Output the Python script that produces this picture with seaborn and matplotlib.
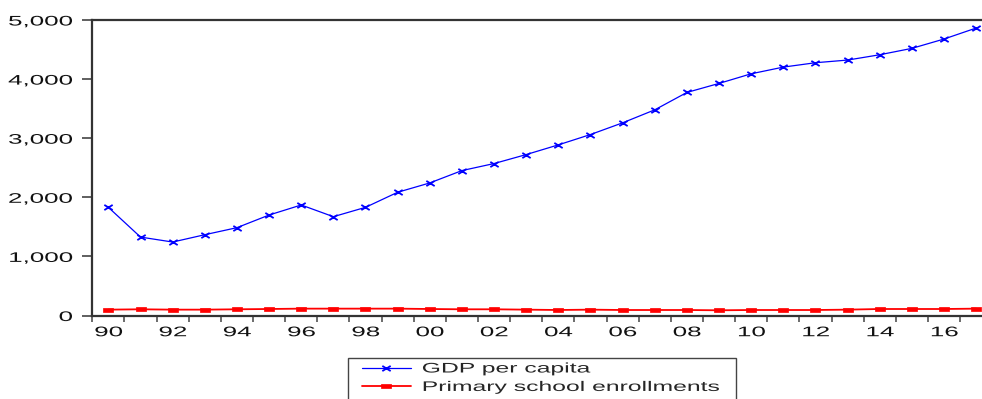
import numpy as np
import pandas as pd
import seaborn as sns
import matplotlib
matplotlib.use("Agg")
import matplotlib.pyplot as plt
from matplotlib.path import Path
from matplotlib.markers import MarkerStyle
from matplotlib.patheffects import AbstractPathEffect
from matplotlib.transforms import Affine2D
from matplotlib.patches import Rectangle

# ---- data -------------------------------------------------------------
years = list(range(1990, 2018))
gdp_per_capita = [1830, 1327, 1243, 1367, 1486, 1700, 1870, 1672, 1830, 2085,
                  2243, 2452, 2571, 2723, 2887, 3062, 3260, 3480, 3774, 3927,
                  4090, 4203, 4277, 4322, 4412, 4520, 4678, 4864]
primary_enrollment = [99, 105, 99, 99, 105, 110, 116, 116, 116, 116,
                      110, 105, 105, 99, 93, 99, 93, 93, 93, 88,
                      93, 93, 93, 99, 110, 110, 110, 116]
series_names = ["GDP per capita", "Primary school enrollments"]
tick_years = list(range(1990, 2017, 2))
y_ticks = [0, 1000, 2000, 3000, 4000, 5000]


class Stretch(AbstractPathEffect):
    """Draw text glyphs widened horizontally about a chosen anchor."""

    def __init__(self, sx, anchor="left"):
        super().__init__()
        self.sx = sx
        self.anchor = anchor

    def draw_path(self, renderer, gc, tpath, affine, rgbFace=None):
        v = tpath.vertices
        if len(v) == 0:
            return
        x0, x1 = v[:, 0].min(), v[:, 0].max()
        px = {"left": x0, "center": 0.5 * (x0 + x1), "right": x1}[self.anchor]
        t = Affine2D().translate(-px, 0).scale(self.sx, 1.0).translate(px, 0)
        renderer.draw_path(gc, tpath, t + affine, rgbFace)


# wide, flat markers
cross = MarkerStyle(Path([(-1, -0.62), (1, 0.62), (-1, 0.62), (1, -0.62)],
                         [Path.MOVETO, Path.LINETO, Path.MOVETO, Path.LINETO]))
flat_square = MarkerStyle(Path([(-1, -0.5), (1, -0.5), (1, 0.5), (-1, 0.5), (-1, -0.5)],
                               [Path.MOVETO, Path.LINETO, Path.LINETO, Path.LINETO,
                                Path.CLOSEPOLY]))

sns.set_theme(style="ticks")
plt.rcParams["font.family"] = ["Liberation Sans", "DejaVu Sans"]

W, H = 982, 399
fig = plt.figure(figsize=(W / 100, H / 100), dpi=100)
left_px, top_px, bottom_px = 92.3, 20.0, 315.5
ax = fig.add_axes([left_px / W, 1 - bottom_px / H, 1 - left_px / W,
                   (bottom_px - top_px) / H])

df = pd.DataFrame({"year": years, "gdp": gdp_per_capita,
                   "enroll": primary_enrollment})

sns.lineplot(data=df, x="year", y="gdp", ax=ax, color="#0000ff", lw=0.9,
             marker=cross, ms=6.0, mew=1.3, mec="#0000ff", mfc="none",
             label=series_names[0], legend=False)
sns.lineplot(data=df, x="year", y="enroll", ax=ax, color="#ff0000", lw=1.3,
             marker=flat_square, ms=6.6, mew=0.5, mec="#ff0000", mfc="#ff0000",
             label=series_names[1], legend=False)

px_per_year = 32.14
ax.set_xlim(1989.5, 1989.5 + (W - left_px) / px_per_year)
ax.set_ylim(0, 5000)
ax.set_xlabel("")
ax.set_ylabel("")

ax.set_yticks(y_ticks)
ax.set_yticklabels([f"{v:,}" for v in y_ticks])
ax.set_xticks(tick_years)
ax.set_xticklabels([f"{y % 100:02d}" for y in tick_years])
ax.set_xticks(np.arange(1989.5, 2017.5, 1.0), minor=True)

ax.tick_params(axis="y", which="major", left=True, length=7.2, width=1.2,
               color="#444444", pad=7, labelsize=10, labelcolor="#111111")
ax.tick_params(axis="x", which="major", bottom=True, length=0, pad=7,
               labelsize=10, labelcolor="#111111")
ax.tick_params(axis="x", which="minor", bottom=True, length=4.5, width=1.1,
               color="#444444", direction="out")

for side in ("left", "top", "bottom"):
    ax.spines[side].set_visible(True)
    ax.spines[side].set_color("#333333")
    ax.spines[side].set_linewidth(1.6)
ax.spines["right"].set_visible(False)

for lab in ax.get_yticklabels():
    lab.set_path_effects([Stretch(1.87, "right")])
for lab in ax.get_xticklabels():
    lab.set_path_effects([Stretch(1.87, "center")])

handles = ax.get_lines()[:2]
leg = ax.legend(handles=handles, labels=series_names, loc="upper left",
                bbox_to_anchor=(362 / W, 1 - 361.5 / H),
                bbox_transform=fig.transFigure, frameon=False, borderpad=0,
                borderaxespad=0, handlelength=3.5, handletextpad=0.8,
                labelspacing=0.32, fontsize=10, numpoints=1)
for t in leg.get_texts():
    t.set_path_effects([Stretch(1.78, "left")])

fig.add_artist(Rectangle((348 / W, -0.02), (736 - 348) / W, 1 - 358 / H + 0.02,
                         transform=fig.transFigure, fill=False, lw=1.0,
                         ec="#444444"))

fig.savefig("out.png", dpi=100)
